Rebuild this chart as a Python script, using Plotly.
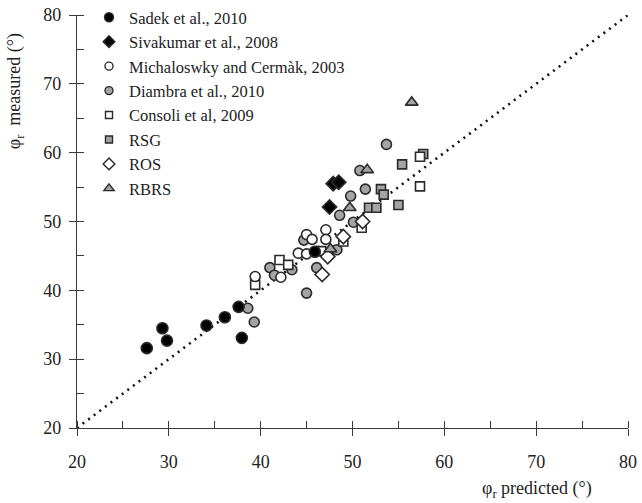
import plotly.graph_objects as go

# Residual friction angle: measured vs predicted (degrees)
sadek_x = [27.6, 29.3, 29.8, 34.1, 36.1, 37.6, 37.95, 45.9]
sadek_y = [31.6, 34.5, 32.7, 34.9, 36.1, 37.6, 33.1, 45.6]

sivakumar_x = [47.9, 48.5, 47.5]
sivakumar_y = [55.5, 55.7, 52.1]

michaloswky_x = [39.4, 42.2, 44.1, 45.0, 45.0, 45.6, 47.1, 47.1]
michaloswky_y = [42.0, 41.9, 45.4, 45.3, 48.1, 47.4, 48.8, 47.4]

diambra_x = [53.7, 50.8, 51.4, 49.8, 48.6, 50.1, 48.3, 44.7, 46.1, 41.0, 41.5, 43.4, 45.0, 38.6, 39.3]
diambra_y = [61.2, 57.4, 54.7, 53.7, 50.9, 49.9, 45.9, 47.3, 43.3, 43.3, 42.2, 43.0, 39.6, 37.4, 35.4]

rsg_x = [55.4, 53.1, 53.4, 51.8, 52.6, 55.0, 57.7]
rsg_y = [58.3, 54.7, 53.9, 52.0, 52.0, 52.4, 59.8]

consoli_x = [39.4, 42.05, 43.0, 46.6, 49.0, 51.0, 57.35, 57.35]
consoli_y = [40.8, 44.4, 43.7, 45.7, 47.1, 49.1, 59.4, 55.1]

ros_x = [51.1, 49.0, 47.3, 46.7]
ros_y = [50.0, 47.8, 44.9, 42.3]

rbrs_x = [56.45, 51.6, 49.7, 47.6]
rbrs_y = [67.3, 57.5, 52.0, 46.0]

line_x = [20, 80]
line_y = [20, 80]

axis_range = [20, 80]
tick_vals = [20, 30, 40, 50, 60, 70, 80]

FONT = "Liberation Serif, DejaVu Serif, Times New Roman, serif"
GREY = "#a4a4a4"
EDGE = "#2a2a2a"
TEXT = "#222222"

# (name, xs, ys, symbol, fill, marker size) in legend order
SERIES = [
    ("Sadek et al., 2010", sadek_x, sadek_y, "circle", "black", 11),
    ("Sivakumar et al., 2008", sivakumar_x, sivakumar_y, "diamond", "black", 11),
    ("Michaloswky and Cermàk, 2003", michaloswky_x, michaloswky_y, "circle", "white", 10),
    ("Diambra et al., 2010", diambra_x, diambra_y, "circle", GREY, 10),
    ("Consoli et al, 2009", consoli_x, consoli_y, "square", "white", 9),
    ("RSG", rsg_x, rsg_y, "square", GREY, 9),
    ("ROS", ros_x, ros_y, "diamond", "white", 11),
    ("RBRS", rbrs_x, rbrs_y, "triangle-up", GREY, 11),
]
# painting order of the point clouds (later ones on top)
DRAW_ORDER = ["Diambra et al., 2010", "RSG", "Consoli et al, 2009",
              "Michaloswky and Cermàk, 2003", "ROS", "RBRS",
              "Sivakumar et al., 2008", "Sadek et al., 2010"]

fig = go.Figure()

# 1:1 reference line
fig.add_trace(go.Scatter(
    x=line_x, y=line_y, mode="lines", showlegend=False, hoverinfo="skip",
    line=dict(color="#111111", width=2.6, dash="2px,5px"),
))

by_name = {s[0]: s for s in SERIES}
for name in DRAW_ORDER:
    _, xs, ys, symbol, fill, size = by_name[name]
    fig.add_trace(go.Scatter(
        x=xs, y=ys, mode="markers", name=name, showlegend=False,
        marker=dict(symbol=symbol, size=size, color=fill,
                    line=dict(color=EDGE, width=1.6)),
    ))

# legend keys (smaller symbols than the data points)
for rank, (name, _, _, symbol, fill, size) in enumerate(SERIES, start=1):
    fig.add_trace(go.Scatter(
        x=[None], y=[None], mode="markers", name=name, legendrank=rank,
        marker=dict(symbol=symbol, size=size - 2, color=fill,
                    line=dict(color=EDGE, width=1.4)),
    ))

# invisible trace so the overlay axes (inside halves of the major ticks) render
fig.add_trace(go.Scatter(x=line_x, y=line_y, xaxis="x2", yaxis="y2", mode="lines",
                         line=dict(width=0), showlegend=False, hoverinfo="skip"))

axis_common = dict(
    range=axis_range, tickvals=tick_vals, showgrid=False, zeroline=False,
    showline=True, linecolor="#3a3a3a", linewidth=1.4,
    ticks="outside", ticklen=7, tickwidth=1.4, tickcolor="#3a3a3a",
    tickfont=dict(family=FONT, size=18, color=TEXT),
    minor=dict(ticks="inside", dtick=5, tick0=20, ticklen=7, tickwidth=1.2, tickcolor="#3a3a3a"),
)
overlay_common = dict(
    range=axis_range, tickvals=tick_vals, showgrid=False, zeroline=False,
    showline=False, showticklabels=False,
    ticks="inside", ticklen=7, tickwidth=1.4, tickcolor="#3a3a3a",
)

fig.update_layout(
    width=642, height=503,
    margin=dict(l=77, r=14, t=15, b=75, autoexpand=False),
    paper_bgcolor="white", plot_bgcolor="white",
    font=dict(family=FONT, size=18, color=TEXT),
    xaxis=dict(**axis_common, ticklabelstandoff=10),
    yaxis=dict(**axis_common, ticklabelstandoff=4),
    xaxis2=dict(**overlay_common, overlaying="x", anchor="y2", side="bottom"),
    yaxis2=dict(**overlay_common, overlaying="y", anchor="x2", side="left"),
    legend=dict(
        xref="container", yref="container",
        x=89 / 642, y=1.012, xanchor="left", yanchor="top",
        bgcolor="rgba(0,0,0,0)", borderwidth=0,
        font=dict(family=FONT, size=16.5, color=TEXT),
        tracegroupgap=0, itemsizing="trace",
    ),
    annotations=[
        dict(text="φ<sub>r</sub>  measured (°)", xref="paper", yref="paper",
             x=-0.111, y=0.815, xanchor="center", yanchor="middle",
             textangle=-90, showarrow=False,
             font=dict(family=FONT, size=18, color=TEXT)),
        dict(text="φ<sub>r</sub> predicted (°)", xref="paper", yref="paper",
             x=0.835, y=-0.15, xanchor="center", yanchor="middle",
             showarrow=False,
             font=dict(family=FONT, size=18, color=TEXT)),
    ],
)

fig.write_html("out.html")
